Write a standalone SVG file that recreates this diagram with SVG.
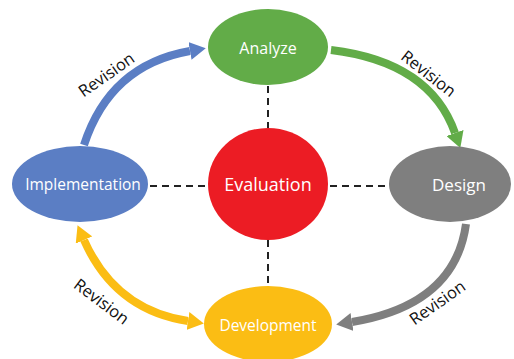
<svg xmlns="http://www.w3.org/2000/svg" width="514" height="359" viewBox="0 0 514 359">
<style>
.lbl{font-family:"Open Sans","Liberation Sans",sans-serif;fill:#fff;text-anchor:middle;dominant-baseline:central}
.rev{font-family:"Open Sans","Liberation Sans",sans-serif;fill:#111;font-size:16.5px;text-anchor:middle;dominant-baseline:central}
.dash{stroke:#222;stroke-width:2;stroke-dasharray:7,5;fill:none}
.arr{fill:none;stroke-width:8}
</style>
<defs>
<marker id="mb" viewBox="0 0 16 18" refX="0" refY="9" markerWidth="16" markerHeight="18" markerUnits="userSpaceOnUse" orient="auto"><path d="M0,0 L16,9 L0,18 z" fill="#5b7ec4"/></marker>
<marker id="mg" viewBox="0 0 16 18" refX="0" refY="9" markerWidth="16" markerHeight="18" markerUnits="userSpaceOnUse" orient="auto"><path d="M0,0 L16,9 L0,18 z" fill="#62ac48"/></marker>
<marker id="mr" viewBox="0 0 16 18" refX="0" refY="9" markerWidth="16" markerHeight="18" markerUnits="userSpaceOnUse" orient="auto"><path d="M0,0 L16,9 L0,18 z" fill="#7f7f7f"/></marker>
<marker id="my" viewBox="0 0 16 18" refX="0" refY="9" markerWidth="16" markerHeight="18" markerUnits="userSpaceOnUse" orient="auto-start-reverse"><path d="M0,0 L16,9 L0,18 z" fill="#fbbd14"/></marker>
</defs>
<rect width="514" height="359" fill="#fff"/>
<g id="connectors">
<line class="dash" x1="268" y1="86" x2="268" y2="128"/>
<line class="dash" x1="268" y1="240" x2="268" y2="287"/>
<line class="dash" x1="150" y1="186" x2="208" y2="186"/>
<line class="dash" x1="330" y1="186" x2="389" y2="186"/>
<path class="arr" d="M84 145 Q110 65 190 51" stroke="#5b7ec4" marker-end="url(#mb)"/>
<path class="arr" d="M331 50 Q430 62 455 133" stroke="#62ac48" marker-end="url(#mg)"/>
<path class="arr" d="M466 224 Q455 305 352 322" stroke="#7f7f7f" marker-end="url(#mr)"/>
<path class="arr" d="M84 240 Q115 310 188 321" stroke="#fbbd14" marker-start="url(#my)" marker-end="url(#my)"/>
<text class="rev" transform="translate(106,74) rotate(-35)">Revision</text>
<text class="rev" transform="translate(429,73) rotate(38)">Revision</text>
<text class="rev" transform="translate(437,302) rotate(-35)">Revision</text>
<text class="rev" transform="translate(102,301) rotate(37)">Revision</text>
</g>
<g id="analyze"><ellipse cx="268" cy="47" rx="60" ry="38" fill="#62ac48"/><text class="lbl" x="268" y="48" font-size="16">Analyze</text></g>
<g id="evaluation"><ellipse cx="268" cy="184" rx="60" ry="56" fill="#ec1c24"/><text class="lbl" x="268" y="184" font-size="18">Evaluation</text></g>
<g id="implementation"><ellipse cx="80" cy="184" rx="68" ry="38" fill="#5b7ec4"/><text class="lbl" x="83" y="184" font-size="15.5">Implementation</text></g>
<g id="design"><ellipse cx="450" cy="184" rx="61" ry="38" fill="#7f7f7f"/><text class="lbl" x="459" y="184" font-size="17">Design</text></g>
<g id="development"><ellipse cx="268" cy="324" rx="64" ry="38" fill="#fbbd14"/><text class="lbl" x="268" y="325" font-size="15.5">Development</text></g>
</svg>
